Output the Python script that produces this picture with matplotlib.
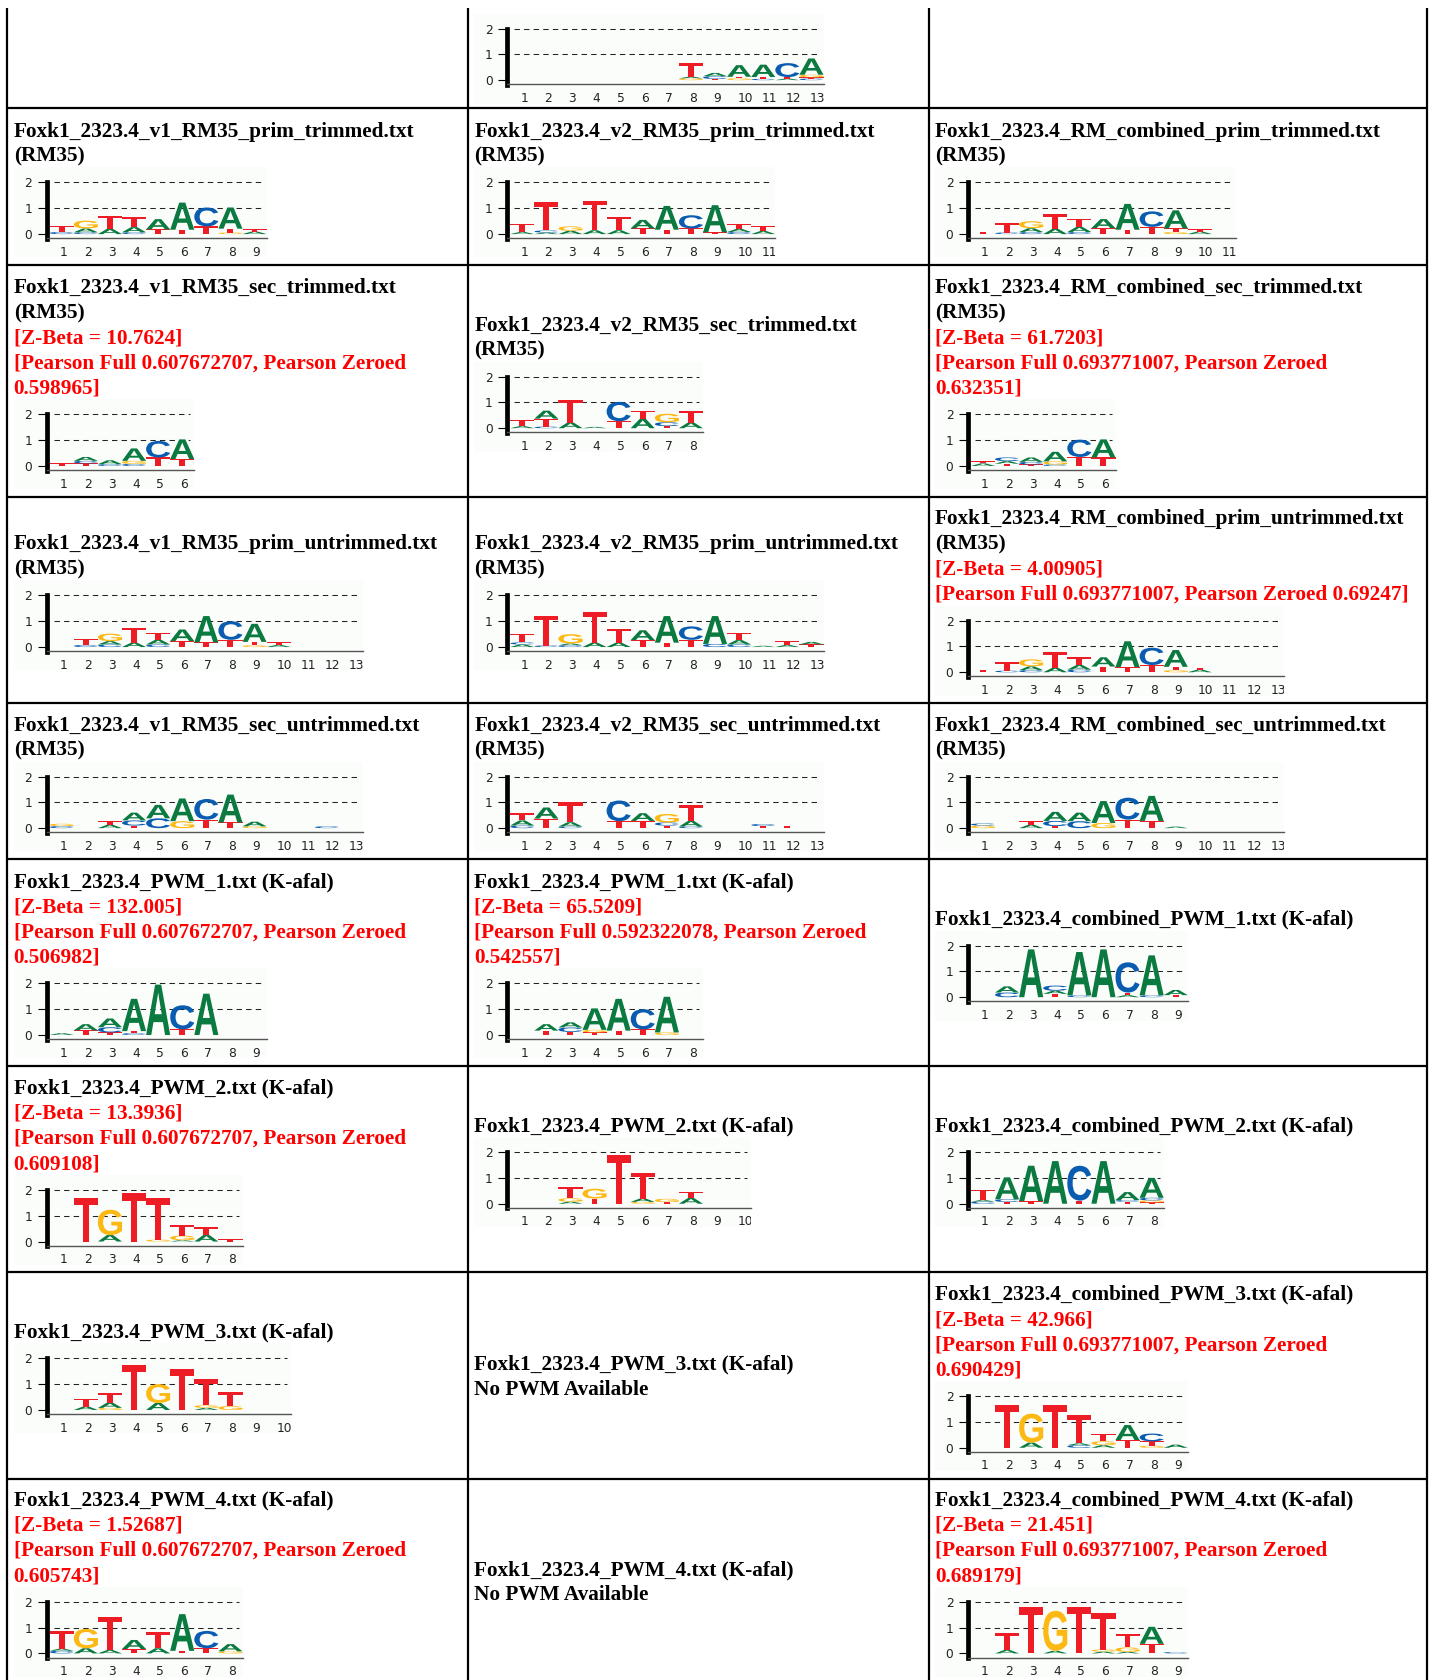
'''
Table of sequence logos for Foxk1_2323.4 (RM35 and K-afal motifs).
'''

import matplotlib
matplotlib.use('Agg')
import matplotlib.pyplot as plt
from matplotlib.font_manager import FontProperties
from matplotlib.patches import PathPatch
from matplotlib.textpath import TextPath
from matplotlib.transforms import Affine2D


################################################################################
#   Logo data, columns of (letter, bits), stacked from the bottom.             #
################################################################################

v2_top = [[], [], [], [], [], [], [],
          [('G', .07), ('A', .06), ('T', .52)],
          [('T', .05), ('C', .1), ('A', .13)],
          [('G', .07), ('T', .06), ('A', .45)],
          [('C', .05), ('T', .07), ('A', .48)],
          [('A', .06), ('T', .06), ('C', .54)],
          [('C', .06), ('T', .05), ('G', .1), ('A', .63)]]

v1_prim_trim = [[('C', .08), ('T', .25)],
                [('C', .07), ('A', .15), ('G', .3)],
                [('A', .2), ('T', .5)],
                [('C', .07), ('A', .2), ('T', .38)],
                [('T', .18), ('A', .4)],
                [('T', .17), ('A', 1.05)],
                [('T', .3), ('C', .73)],
                [('G', .06), ('T', .15), ('A', .82)],
                [('A', .1), ('T', .08)]]

v2_prim_trim = [[('A', .08), ('T', .32)],
                [('A', .06), ('C', .08), ('T', 1.1)],
                [('A', .13), ('G', .17)],
                [('A', .15), ('T', 1.15)],
                [('A', .15), ('T', .5)],
                [('T', .22), ('A', .33)],
                [('T', .17), ('A', .92)],
                [('T', .22), ('C', .51)],
                [('T', .07), ('A', 1.05)],
                [('C', .08), ('A', .12), ('T', .2)],
                [('A', .12), ('T', .18)]]

comb_prim_trim = [[('T', .1)],
                  [('C', .06), ('T', .36)],
                  [('C', .08), ('A', .15), ('G', .27)],
                  [('A', .2), ('T', .57)],
                  [('C', .08), ('A', .2), ('T', .32)],
                  [('T', .23), ('A', .35)],
                  [('T', .17), ('A', 1.0)],
                  [('T', .28), ('C', .6)],
                  [('G', .08), ('T', .14), ('A', .7)],
                  [('A', .1), ('T', .08)],
                  []]

v1_sec_trim = [[('T', .1)],
               [('T', .1), ('C', .1), ('A', .15)],
               [('C', .07), ('A', .15)],
               [('C', .08), ('G', .12), ('A', .48)],
               [('T', .33), ('C', .64)],
               [('T', .27), ('A', .76)]]

v2_sec_trim = [[('A', .08), ('T', .22)],
               [('C', .06), ('T', .31), ('A', .31)],
               [('A', .22), ('T', .88)],
               [('A', .05)],
               [('T', .27), ('C', .75)],
               [('A', .36), ('T', .3)],
               [('T', .08), ('C', .15), ('G', .33)],
               [('A', .22), ('T', .46)]]

comb_sec_trim = [[('A', .1), ('T', .08)],
                 [('T', .09), ('A', .1), ('C', .14)],
                 [('T', .06), ('C', .1), ('A', .17)],
                 [('C', .06), ('G', .12), ('A', .37)],
                 [('T', .35), ('C', .67)],
                 [('T', .33), ('A', .7)]]

v1_prim_untrim = [[],
                  [('C', .08), ('T', .24)],
                  [('C', .1), ('A', .13), ('G', .29)],
                  [('A', .17), ('T', .57)],
                  [('C', .1), ('A', .18), ('T', .27)],
                  [('T', .23), ('A', .45)],
                  [('T', .18), ('A', 1.02)],
                  [('T', .28), ('C', .72)],
                  [('G', .07), ('T', .13), ('A', .7)],
                  [('A', .08), ('T', .1)],
                  [], [], []]

v2_prim_untrim = [[('A', .1), ('C', .08), ('T', .33)],
                  [('C', .06), ('T', 1.16)],
                  [('C', .07), ('A', .07), ('G', .36)],
                  [('A', .17), ('T', 1.17)],
                  [('A', .17), ('T', .53)],
                  [('T', .27), ('A', .38)],
                  [('T', .17), ('A', 1.03)],
                  [('T', .28), ('C', .52)],
                  [('C', .12), ('A', 1.08)],
                  [('C', .1), ('A', .17), ('T', .29)],
                  [('A', .05)],
                  [('A', .08), ('T', .15)],
                  [('T', .1), ('A', .1)]]

comb_prim_untrim = [[('T', .1)],
                    [('C', .06), ('T', .33)],
                    [('C', .08), ('A', .15), ('G', .27)],
                    [('A', .17), ('T', .6)],
                    [('C', .1), ('A', .18), ('T', .3)],
                    [('T', .22), ('A', .36)],
                    [('T', .2), ('A', 1.0)],
                    [('T', .28), ('C', .67)],
                    [('G', .08), ('T', .13), ('A', .65)],
                    [('A', .1), ('T', .08)],
                    [], [], []]

v1_sec_untrim = [[('C', .08), ('G', .09)],
                 [],
                 [('A', .13), ('T', .15)],
                 [('T', .1), ('C', .2), ('A', .3)],
                 [('C', .38), ('A', .52)],
                 [('G', .27), ('A', .88)],
                 [('T', .33), ('C', .8)],
                 [('T', .22), ('A', 1.08)],
                 [('G', .07), ('A', .18)],
                 [], [],
                 [('C', .07)],
                 []]

v2_sec_untrim = [[('C', .1), ('A', .2), ('T', .27)],
                 [('T', .37), ('A', .43)],
                 [('C', .06), ('A', .17), ('T', .77)],
                 [],
                 [('T', .27), ('C', .8)],
                 [('T', .28), ('A', .3)],
                 [('T', .1), ('C', .12), ('G', .33)],
                 [('C', .06), ('A', .22), ('T', .6)],
                 [], [],
                 [('T', .08), ('C', .08)],
                 [('T', .08)],
                 []]

comb_sec_untrim = [[('G', .1), ('C', .08)],
                   [],
                   [('A', .13), ('T', .15)],
                   [('T', .08), ('C', .2), ('A', .35)],
                   [('C', .27), ('A', .33)],
                   [('G', .2), ('A', .85)],
                   [('T', .33), ('C', .85)],
                   [('T', .28), ('A', .97)],
                   [('A', .06)],
                   [], [], [], []]

v1_pwm1 = [[('A', .07)],
           [('T', .18), ('A', .24)],
           [('T', .1), ('C', .2), ('A', .34)],
           [('C', .07), ('T', .08), ('A', 1.25)],
           [('A', 1.95)],
           [('T', .22), ('C', .93)],
           [('A', 1.6)],
           [], []]

v2_pwm1 = [[],
           [('T', .17), ('A', .25)],
           [('T', .12), ('C', .17), ('A', .2)],
           [('T', .1), ('G', .1), ('A', .83)],
           [('T', .17), ('A', 1.23)],
           [('T', .22), ('C', .78)],
           [('G', .1), ('A', 1.38)],
           []]

comb_pwm1 = [[],
             [('C', .18), ('A', .24)],
             [('A', 1.85)],
             [('T', .13), ('A', .12), ('C', .2)],
             [('C', .07), ('A', 1.68)],
             [('A', 1.85)],
             [('A', .08), ('T', .1), ('C', 1.17)],
             [('C', .07), ('A', 1.55)],
             [('T', .08), ('A', .2)]]

v1_pwm2 = [[],
           [('T', 1.68)],
           [('A', .25), ('G', .98)],
           [('T', 1.88)],
           [('G', .07), ('T', 1.6)],
           [('A', .05), ('G', .18), ('T', .4)],
           [('A', .25), ('T', .3)],
           [('T', .08)]]

v2_pwm2 = [[], [],
           [('A', .08), ('G', .13), ('T', .44)],
           [('T', .2), ('G', .38)],
           [('T', 1.88)],
           [('G', .07), ('A', .13), ('T', 1.0)],
           [('T', .06), ('G', .13)],
           [('A', .22), ('T', .25)],
           [], []]

comb_pwm2 = [[('C', .08), ('A', .06), ('T', .41)],
             [('T', .07), ('C', .1), ('A', .85)],
             [('T', .1), ('A', 1.37)],
             [('A', 1.65)],
             [('T', .12), ('C', 1.35)],
             [('A', 1.65)],
             [('T', .08), ('C', .06), ('A', .31)],
             [('T', .05), ('G', .08), ('C', .1), ('A', .77)]]

v1_pwm3 = [[],
           [('A', .13), ('T', .3)],
           [('G', .08), ('A', .2), ('T', .37)],
           [('T', 1.75)],
           [('A', .27), ('G', .73)],
           [('T', 1.58)],
           [('A', .08), ('G', .1), ('T', 1.0)],
           [('G', .15), ('T', .53)],
           [], []]

v1_pwm4 = [[('C', .1), ('A', .08), ('T', .69)],
           [('A', .2), ('G', .75)],
           [('A', .13), ('T', 1.29)],
           [('T', .17), ('A', .35)],
           [('A', .2), ('T', .62)],
           [('T', .1), ('A', 1.42)],
           [('T', .2), ('C', .67)],
           [('G', .08), ('A', .28)]]

comb_pwm3 = [[],
             [('T', 1.67)],
             [('A', .2), ('G', 1.12)],
             [('T', 1.67)],
             [('C', .1), ('A', .07), ('T', 1.1)],
             [('A', .1), ('G', .15), ('T', .3)],
             [('T', .3), ('A', .58)],
             [('G', .08), ('T', .17), ('C', .3)],
             [('A', .12)]]

comb_pwm4 = [[],
             [('A', .13), ('T', .67)],
             [('T', 1.78)],
             [('A', .1), ('G', 1.55)],
             [('T', 1.8)],
             [('A', .07), ('G', .08), ('T', 1.4)],
             [('A', .06), ('G', .17), ('T', .52)],
             [('T', .37), ('A', .66)],
             [('C', .05)]]

################################################################################
#   Cell texts.                                                                #
################################################################################

rm = '(RM35)'
pearson_v1 = '[Pearson Full 0.607672707, Pearson Zeroed'
pearson_comb = '[Pearson Full 0.693771007, Pearson Zeroed'

# each row: one (black lines, red lines, logo) per table column
rows = [
    [([], [], None), ([], [], v2_top), ([], [], None)],
    [(['Foxk1_2323.4_v1_RM35_prim_trimmed.txt', rm], [], v1_prim_trim),
     (['Foxk1_2323.4_v2_RM35_prim_trimmed.txt', rm], [], v2_prim_trim),
     (['Foxk1_2323.4_RM_combined_prim_trimmed.txt', rm], [], comb_prim_trim)],
    [(['Foxk1_2323.4_v1_RM35_sec_trimmed.txt', rm],
      ['[Z-Beta = 10.7624]', pearson_v1, '0.598965]'], v1_sec_trim),
     (['Foxk1_2323.4_v2_RM35_sec_trimmed.txt', rm], [], v2_sec_trim),
     (['Foxk1_2323.4_RM_combined_sec_trimmed.txt', rm],
      ['[Z-Beta = 61.7203]', pearson_comb, '0.632351]'], comb_sec_trim)],
    [(['Foxk1_2323.4_v1_RM35_prim_untrimmed.txt', rm], [], v1_prim_untrim),
     (['Foxk1_2323.4_v2_RM35_prim_untrimmed.txt', rm], [], v2_prim_untrim),
     (['Foxk1_2323.4_RM_combined_prim_untrimmed.txt', rm],
      ['[Z-Beta = 4.00905]', pearson_comb + ' 0.69247]'], comb_prim_untrim)],
    [(['Foxk1_2323.4_v1_RM35_sec_untrimmed.txt', rm], [], v1_sec_untrim),
     (['Foxk1_2323.4_v2_RM35_sec_untrimmed.txt', rm], [], v2_sec_untrim),
     (['Foxk1_2323.4_RM_combined_sec_untrimmed.txt', rm], [], comb_sec_untrim)],
    [(['Foxk1_2323.4_PWM_1.txt (K-afal)'],
      ['[Z-Beta = 132.005]', pearson_v1, '0.506982]'], v1_pwm1),
     (['Foxk1_2323.4_PWM_1.txt (K-afal)'],
      ['[Z-Beta = 65.5209]', '[Pearson Full 0.592322078, Pearson Zeroed', '0.542557]'], v2_pwm1),
     (['Foxk1_2323.4_combined_PWM_1.txt (K-afal)'], [], comb_pwm1)],
    [(['Foxk1_2323.4_PWM_2.txt (K-afal)'],
      ['[Z-Beta = 13.3936]', pearson_v1, '0.609108]'], v1_pwm2),
     (['Foxk1_2323.4_PWM_2.txt (K-afal)'], [], v2_pwm2),
     (['Foxk1_2323.4_combined_PWM_2.txt (K-afal)'], [], comb_pwm2)],
    [(['Foxk1_2323.4_PWM_3.txt (K-afal)'], [], v1_pwm3),
     (['Foxk1_2323.4_PWM_3.txt (K-afal)', 'No PWM Available'], [], None),
     (['Foxk1_2323.4_combined_PWM_3.txt (K-afal)'],
      ['[Z-Beta = 42.966]', pearson_comb, '0.690429]'], comb_pwm3)],
    [(['Foxk1_2323.4_PWM_4.txt (K-afal)'],
      ['[Z-Beta = 1.52687]', pearson_v1, '0.605743]'], v1_pwm4),
     (['Foxk1_2323.4_PWM_4.txt (K-afal)', 'No PWM Available'], [], None),
     (['Foxk1_2323.4_combined_PWM_4.txt (K-afal)'],
      ['[Z-Beta = 21.451]', pearson_comb, '0.689179]'], comb_pwm4)],
]

################################################################################
#   Layout constants, pixels.                                                  #
################################################################################

W, H = 1433, 1680
row_lines = [8, 108.3, 265, 496.5, 702.7, 858.7, 1066, 1271.7, 1478.5, 1683]
col_lines = [6.8, 467.8, 928.7, 1426.7]
col_left = [13.7, 474.2, 934.9]
LINE_H = 25.2
COL_W = 24.1
BIT_H = 25.83
FONT_SIZE = 15.28

colors = {'A': '#0b7a40', 'C': '#0a5cb0', 'G': '#fdb913', 'T': '#ee1c25'}
logo_font = FontProperties(family='Liberation Sans', weight='bold')

glyphs = {}
for letter in colors:
    path = TextPath((0, 0), letter, size=1, prop=logo_font)
    box = path.get_extents()
    glyphs[letter] = path.transformed(
        Affine2D().translate(-box.x0, -box.y0).scale(1 / box.width, 1 / box.height))


def draw_logo(fig, left, y2, columns):
    n = len(columns)
    width = 36 + n * COL_W
    # axes covers the whole logo image, 15 px above the "2" and 75 px under it
    ax = fig.add_axes([left / W, 1 - (y2 + 75) / H, width / W, 90 / H])
    ax.set_facecolor('#fbfdfb')
    ax.set_xlim(0.5 - 36 / COL_W, n + 0.5)
    ax.set_ylim(2 - 75 / BIT_H, 2 + 15 / BIT_H)

    ax.hlines([1, 2], 0.5 + 4 / COL_W, n + 0.5 - 4 / COL_W,
              color='#222222', lw=0.75, linestyles=(0, (5.2, 4.0)), zorder=1)

    for i, stack in enumerate(columns):
        base = 0
        for letter, bits in stack:
            tr = Affine2D().scale(1, bits).translate(i + 0.5, base)
            ax.add_patch(PathPatch(glyphs[letter].transformed(tr), fc=colors[letter],
                                   lw=0, zorder=3))
            base += bits

    for side in ['top', 'right']:
        ax.spines[side].set_visible(False)
    ax.spines['left'].set_position(('data', 0.5 - 3 / COL_W))
    ax.spines['left'].set_linewidth(3.4)
    ax.spines['left'].set_bounds(-4.6 / BIT_H, 2)
    ax.spines['bottom'].set_position(('data', -4.2 / BIT_H))
    ax.spines['bottom'].set_linewidth(1.0)
    ax.spines['bottom'].set_color('#555555')
    ax.spines['bottom'].set_bounds(0.5 - 3 / COL_W, n + 0.5)

    ax.set_yticks([0, 1, 2])
    # labels sit 2 px right of the column centre, two-digit ones 4 px further
    ax.set_xticks([i + 1.08 + (4 / COL_W if i >= 9 else 0) for i in range(n)])
    ax.set_xticklabels([str(i + 1) for i in range(n)])
    ax.tick_params(axis='y', length=6.2, width=0.8, pad=4.2, labelsize=8.8,
                   labelcolor='#222222')
    ax.tick_params(axis='x', length=0, pad=5.4, labelsize=8.8, labelcolor='#222222')
    for label in ax.get_xticklabels():
        label.set_clip_on(True)
        label.set_clip_box(ax.bbox)


################################################################################
#   Draw table.                                                                #
################################################################################

fig = plt.figure(figsize=(W / 100, H / 100), dpi=100)
page = fig.add_axes([0, 0, 1, 1])
page.set_xlim(0, W)
page.set_ylim(H, 0)
page.axis('off')

page.hlines(row_lines[1:-1], col_lines[0], col_lines[-1], color='black', lw=1.6)
page.vlines(col_lines, row_lines[0], H, color='black', lw=1.6)

for r, row in enumerate(rows):
    center = (row_lines[r] + row_lines[r + 1]) / 2
    for c, (black, red, logo) in enumerate(row):
        lines = [(t, 'black') for t in black] + [(t, '#ff0000') for t in red]
        n = len(lines)
        if logo is None:
            first = center - n * LINE_H / 2 + 19.5
        else:
            first = center - 37.5 - (n - 1) * LINE_H / 2
        for k, (t, color) in enumerate(lines):
            page.text(col_left[c], first + k * LINE_H, t, color=color, va='baseline',
                      family='Liberation Serif', weight='bold', fontsize=FONT_SIZE)
        if logo is not None:
            y2 = 28.5 if n == 0 else first + (n - 1) * LINE_H + 20.7
            draw_logo(fig, col_left[c], y2, logo)

fig.savefig('out.png', dpi=100, facecolor='white')
